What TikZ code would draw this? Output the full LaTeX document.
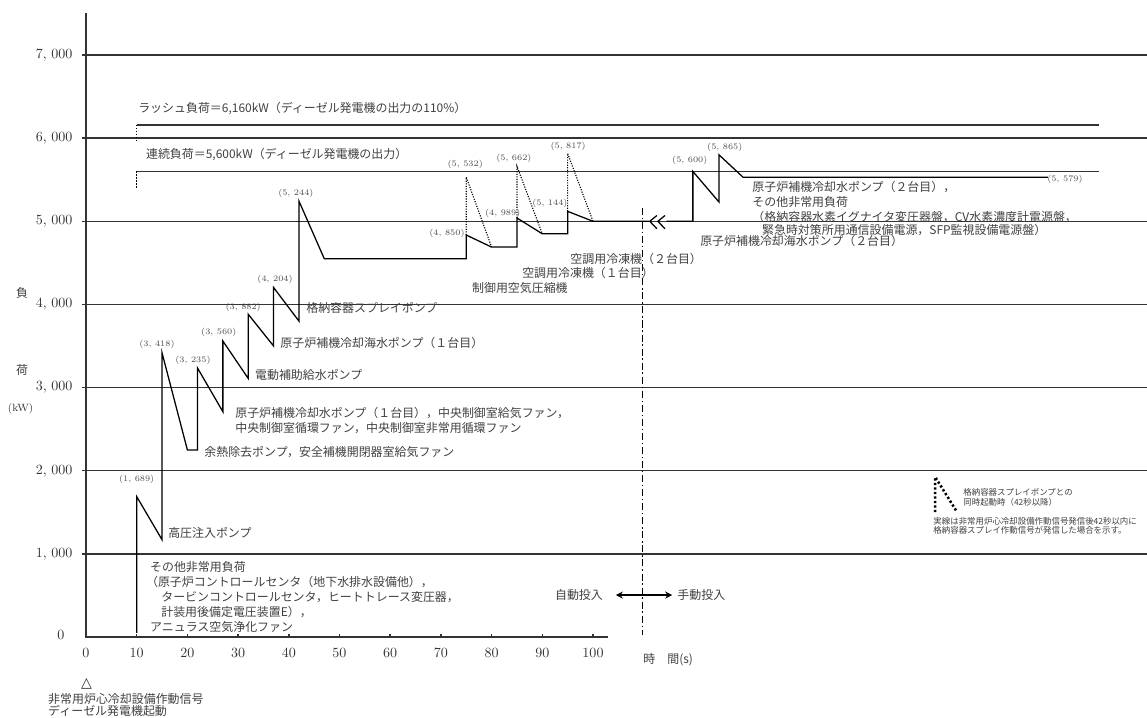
\documentclass[tikz,border=0pt]{standalone}
\usepackage{fontspec}
\newfontfamily\jp{Noto Sans CJK JP}
\newfontfamily\sym{DejaVu Sans}
\usetikzlibrary{arrows.meta}

\begin{document}
\begin{tikzpicture}[x=0.12675cm, y=2.0785cm,
    gridline/.style={line width=1.1pt, black!80},
    loadline/.style={line width=0.9pt, black},
    spikeline/.style={line width=0.8pt, densely dotted},
    lbl/.style={anchor=west, inner sep=0pt, text=black!75, font=\jp\fontsize{8.5}{10}\selectfont},
    val/.style={inner sep=0pt, text=black!70, font=\fontsize{6}{7}\selectfont},
    note/.style={anchor=west, inner sep=0pt, text=black!75, font=\jp\fontsize{6}{7}\selectfont},
    num/.style={inner sep=0pt, text=black!80, font=\fontsize{10}{12}\selectfont},
    ]
    \useasboundingbox (-16.96,-0.974) rectangle (209.27,7.662);

    % Axes and grid
    \draw[gridline] (0,7.505) -- (0,0) -- (103,0);
    \foreach \y in {1,...,7} {
        \draw[gridline] (-0.8,\y) -- (209.2,\y);
        \node[num, anchor=east] (ylab\y) at (-2.6,\y) {\y, 000};
    }
    \node[num, anchor=east] (ylab0) at (-4.2,0.03) {0};
    \foreach \x in {0,10,...,100} {
        \draw[gridline] (\x,0) -- (\x,0.04);
        \node[num] (xlab\x) at (\x,-0.19) {\x};
    }
    \node[lbl, anchor=center] (ylbla) at (-12.6,4.14) {負};
    \node[lbl, anchor=center] (ylblb) at (-12.6,3.21) {荷};
    \node[num, anchor=center, font=\fontsize{7.5}{9}\selectfont] (unit) at (-12.9,2.75) {(kW)};
    \node[lbl] (tlbl) at (109.9,-0.277) {時　間(s)};

    % Start signal
    \node[inner sep=0pt, text=black!85, font=\sym\fontsize{10}{11}\selectfont] (start) at (0.1,-0.565) {△};
    \node[lbl] (sig1) at (-7.5,-0.745) {非常用炉心冷却設備作動信号};
    \node[lbl] (sig2) at (-7.5,-0.89) {ディーゼル発電機起動};

    % Generator limits
    \draw[gridline] (10,6.16) -- (199.8,6.16);
    \draw[gridline] (10,5.6) -- (199.8,5.6);
    \draw[line width=1.1pt, densely dotted] (10,6.16) -- (10,5.95);
    \draw[line width=1.1pt, densely dotted] (10,5.6) -- (10,5.40);
    \node[lbl] (rush) at (10.26,6.36) {ラッシュ負荷＝6,160kW（ディーゼル発電機の出力の110\%）};
    \node[lbl] (cont) at (11.8,5.80) {連続負荷＝5,600kW（ディーゼル発電機の出力）};

    % Load curve
    \draw[loadline] (10,0.05) -- (10,1.689) -- (15,1.17) -- (15,3.418) -- (20,2.25) -- (22,2.25)
        -- (22,3.235) -- (27,2.71) -- (27,3.56) -- (32,3.11) -- (32,3.882) -- (37,3.5)
        -- (37,4.204) -- (42,3.8) -- (42,5.244) -- (47,4.55) -- (75,4.55) -- (75,4.835)
        -- (80,4.69) -- (85,4.69) -- (85,5.04) -- (90,4.85) -- (95,4.85) -- (95,5.12)
        -- (100,5) -- (111,5);
    \draw[loadline] (114.5,5) -- (119.7,5) -- (119.7,5.6) -- (124.85,5.232) -- (124.85,5.80)
        -- (129.6,5.53) -- (189.7,5.53);
    % break mark
    \draw[loadline] (112.6,5.07) -- (111.2,5.0) -- (112.6,4.91);
    \draw[loadline] (114.2,5.07) -- (112.8,5.0) -- (114.2,4.91);

    % Start together with containment spray
    \draw[spikeline] (75,4.835) -- (75,5.532) -- (80,4.69);
    \draw[spikeline] (85,5.04) -- (85,5.662) -- (90,4.85);
    \draw[spikeline] (95,5.12) -- (95,5.817) -- (100,5);

    % Auto / manual boundary
    \draw[line width=0.9pt, dash pattern=on 5pt off 2pt on 1pt off 2pt] (109.7,5.16) -- (109.7,0.02);
    \node[lbl, anchor=east] (auto) at (102.0,0.505) {自動投入};
    \node[lbl] (manu) at (116.6,0.505) {手動投入};
    \draw[{Stealth[length=5pt,width=5pt]}-{Stealth[length=5pt,width=5pt]}, line width=1.3pt,
        shorten <=9pt, shorten >=3.5pt] (auto) -- (manu);

    % Peak values
    \node[val] (v1) at (10,1.90) {(1, 689)};
    \node[val] (v2) at (14,3.52) {(3, 418)};
    \node[val] (v3) at (21.1,3.33) {(3, 235)};
    \node[val] (v4) at (26.2,3.66) {(3, 560)};
    \node[val] (v5) at (31.0,3.97) {(3, 882)};
    \node[val] (v6) at (37.3,4.30) {(4, 204)};
    \node[val] (v7) at (41.4,5.33) {(5, 244)};
    \node[val] (v8) at (71.2,4.85) {(4, 850)};
    \node[val] (v9) at (74.8,5.69) {(5, 532)};
    \node[val] (v10) at (82.2,5.10) {(4, 989)};
    \node[val] (v11) at (84.4,5.76) {(5, 662)};
    \node[val] (v12) at (91.5,5.21) {(5, 144)};
    \node[val] (v13) at (95.1,5.90) {(5, 817)};
    \node[val] (v14) at (119.1,5.737) {(5, 600)};
    \node[val] (v15) at (126.0,5.89) {(5, 865)};
    \node[val] (v16) at (193.1,5.51) {(5, 579)};

    % Loads started at each step
    \node[lbl] (hpi) at (16.17,1.251) {高圧注入ポンプ};
    \node[lbl] (oth1) at (12.6,0.842) {その他非常用負荷};
    \node[lbl] (oth2) at (11.8,0.662) {（原子炉コントロールセンタ（地下水排水設備他），};
    \node[lbl] (oth3) at (14.8,0.481) {タービンコントロールセンタ，ヒートトレース変圧器，};
    \node[lbl] (oth4) at (14.8,0.301) {計装用後備定電圧装置E），};
    \node[lbl] (oth5) at (12.6,0.120) {アニュラス空気浄化ファン};
    \node[lbl] (rhr) at (23.3,2.225) {余熱除去ポンプ，安全補機開閉器室給気ファン};
    \node[lbl] (ccw1a) at (29.4,2.694) {原子炉補機冷却水ポンプ（１台目），中央制御室給気ファン，};
    \node[lbl] (ccw1b) at (29.4,2.514) {中央制御室循環ファン，中央制御室非常用循環ファン};
    \node[lbl] (afw) at (33.3,3.151) {電動補助給水ポンプ};
    \node[lbl] (sw1) at (38.3,3.536) {原子炉補機冷却海水ポンプ（１台目）};
    \node[lbl] (csp) at (43.4,3.957) {格納容器スプレイポンプ};
    \node[lbl] (air) at (76.1,4.198) {制御用空気圧縮機};
    \node[lbl] (chl1) at (86.0,4.378) {空調用冷凍機（１台目）};
    \node[lbl] (chl2) at (95.5,4.546) {空調用冷凍機（２台目）};
    \node[lbl] (ccw2) at (131.4,5.413) {原子炉補機冷却水ポンプ（２台目），};
    \node[lbl] (oth6) at (131.4,5.232) {その他非常用負荷};
    \node[lbl] (oth7) at (131.4,5.052) {（格納容器水素イグナイタ変圧器盤，CV水素濃度計電源盤，};
    \node[lbl] (oth8) at (133.3,4.895) {緊急時対策所用通信設備電源，SFP監視設備電源盤）};
    \node[lbl] (sw2) at (121.1,4.763) {原子炉補機冷却海水ポンプ（２台目）};

    % Legend
    \draw[line width=1.8pt, dash pattern=on 1.6pt off 1.6pt] (167.5,1.503) -- (167.5,1.924) -- (171.8,1.503);
    \node[note] (key1) at (173.0,1.744) {格納容器スプレイポンプとの};
    \node[note] (key2) at (173.0,1.624) {同時起動時（42秒以降）};
    \node[note] (key3) at (167.1,1.395) {実線は非常用炉心冷却設備作動信号発信後42秒以内に};
    \node[note] (key4) at (167.1,1.287) {格納容器スプレイ作動信号が発信した場合を示す。};
\end{tikzpicture}
\end{document}
